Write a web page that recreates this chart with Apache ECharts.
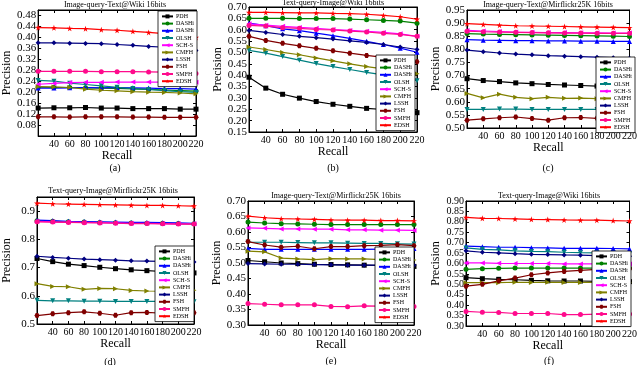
<!DOCTYPE html>
<html>
<head>
<meta charset="utf-8">
<script src="https://cdn.jsdelivr.net/npm/echarts@6/dist/echarts.min.js"></script>
<style>
  html, body { margin: 0; padding: 0; background: #fff; }
  #main { width: 640px; height: 365px; }
</style>
</head>
<body>
<div id="main"></div>
<script>
// precision vs recall, 16 bits, six retrieval settings
var recall = [20, 40, 60, 80, 100, 120, 140, 160, 180, 200, 220];
var methods = ['PDH', 'DASHi', 'DASHt', 'OLSH', 'SCH-S', 'CMFH', 'LSSH', 'FSH', 'SMFH', 'EDSH'];

// rows follow the order of methods
var panelA = [
    [0.142, 0.143, 0.143, 0.144, 0.142, 0.142, 0.140, 0.140, 0.140, 0.138, 0.138],
    [0.218, 0.217, 0.217, 0.216, 0.215, 0.214, 0.212, 0.210, 0.208, 0.206, 0.204],
    [0.215, 0.215, 0.216, 0.217, 0.216, 0.217, 0.216, 0.215, 0.213, 0.213, 0.211],
    [0.243, 0.240, 0.233, 0.228, 0.223, 0.218, 0.213, 0.210, 0.206, 0.202, 0.199],
    [0.229, 0.232, 0.235, 0.236, 0.236, 0.237, 0.237, 0.237, 0.237, 0.237, 0.236],
    [0.220, 0.219, 0.217, 0.211, 0.207, 0.205, 0.202, 0.200, 0.199, 0.197, 0.194],
    [0.380, 0.380, 0.379, 0.378, 0.377, 0.374, 0.371, 0.367, 0.364, 0.361, 0.352],
    [0.110, 0.110, 0.109, 0.110, 0.110, 0.110, 0.109, 0.109, 0.108, 0.108, 0.108],
    [0.276, 0.276, 0.276, 0.276, 0.275, 0.275, 0.275, 0.274, 0.273, 0.273, 0.268],
    [0.436, 0.435, 0.433, 0.432, 0.428, 0.426, 0.422, 0.418, 0.414, 0.410, 0.400]
];
var panelB = [
    [0.391, 0.343, 0.316, 0.299, 0.284, 0.272, 0.263, 0.254, 0.249, 0.243, 0.235],
    [0.650, 0.650, 0.650, 0.649, 0.649, 0.649, 0.647, 0.644, 0.641, 0.638, 0.629],
    [0.629, 0.618, 0.604, 0.596, 0.585, 0.574, 0.562, 0.549, 0.535, 0.519, 0.501],
    [0.509, 0.497, 0.482, 0.466, 0.451, 0.438, 0.425, 0.412, 0.401, 0.391, 0.376],
    [0.626, 0.620, 0.615, 0.610, 0.606, 0.601, 0.597, 0.593, 0.588, 0.582, 0.571],
    [0.524, 0.513, 0.500, 0.490, 0.476, 0.463, 0.450, 0.438, 0.428, 0.419, 0.406],
    [0.597, 0.588, 0.579, 0.571, 0.565, 0.559, 0.551, 0.544, 0.535, 0.524, 0.513],
    [0.571, 0.553, 0.540, 0.529, 0.518, 0.507, 0.497, 0.487, 0.478, 0.469, 0.459],
    [0.619, 0.616, 0.609, 0.606, 0.601, 0.599, 0.594, 0.590, 0.584, 0.579, 0.571],
    [0.676, 0.676, 0.675, 0.674, 0.674, 0.672, 0.671, 0.668, 0.663, 0.657, 0.646]
];
var panelC = [
    [0.688, 0.681, 0.677, 0.672, 0.669, 0.666, 0.664, 0.662, 0.660, 0.658, 0.656],
    [0.860, 0.858, 0.857, 0.856, 0.855, 0.854, 0.853, 0.852, 0.851, 0.850, 0.849],
    [0.837, 0.835, 0.834, 0.833, 0.833, 0.832, 0.832, 0.831, 0.831, 0.830, 0.830],
    [0.571, 0.571, 0.572, 0.572, 0.571, 0.571, 0.571, 0.571, 0.571, 0.571, 0.571],
    [0.872, 0.870, 0.868, 0.866, 0.865, 0.864, 0.864, 0.863, 0.863, 0.862, 0.862],
    [0.632, 0.615, 0.629, 0.617, 0.612, 0.617, 0.613, 0.614, 0.612, 0.613, 0.612],
    [0.797, 0.791, 0.786, 0.782, 0.779, 0.776, 0.774, 0.772, 0.770, 0.768, 0.766],
    [0.530, 0.535, 0.539, 0.542, 0.536, 0.530, 0.539, 0.540, 0.537, 0.536, 0.539],
    [0.869, 0.867, 0.866, 0.865, 0.864, 0.863, 0.862, 0.862, 0.861, 0.861, 0.861],
    [0.898, 0.895, 0.892, 0.890, 0.889, 0.888, 0.887, 0.886, 0.885, 0.884, 0.883]
];
var panelD = [
    [0.732, 0.721, 0.712, 0.707, 0.701, 0.696, 0.692, 0.689, 0.686, 0.683, 0.681],
    [0.866, 0.864, 0.862, 0.861, 0.860, 0.859, 0.858, 0.857, 0.857, 0.856, 0.855],
    [0.868, 0.866, 0.864, 0.863, 0.862, 0.861, 0.860, 0.860, 0.859, 0.858, 0.857],
    [0.584, 0.582, 0.582, 0.581, 0.581, 0.580, 0.580, 0.580, 0.580, 0.580, 0.579],
    [0.864, 0.862, 0.861, 0.860, 0.859, 0.858, 0.857, 0.857, 0.856, 0.855, 0.855],
    [0.643, 0.633, 0.632, 0.623, 0.626, 0.625, 0.619, 0.617, 0.616, 0.617, 0.620],
    [0.740, 0.736, 0.733, 0.730, 0.728, 0.726, 0.724, 0.723, 0.722, 0.721, 0.720],
    [0.530, 0.536, 0.540, 0.543, 0.538, 0.531, 0.540, 0.541, 0.538, 0.537, 0.540],
    [0.862, 0.861, 0.860, 0.859, 0.858, 0.857, 0.856, 0.856, 0.855, 0.854, 0.854],
    [0.928, 0.926, 0.925, 0.924, 0.923, 0.922, 0.921, 0.920, 0.920, 0.919, 0.918]
];
var panelE = [
    [0.508, 0.504, 0.500, 0.498, 0.496, 0.495, 0.494, 0.493, 0.492, 0.491, 0.489],
    [0.632, 0.629, 0.627, 0.626, 0.625, 0.624, 0.624, 0.624, 0.624, 0.624, 0.624],
    [0.547, 0.544, 0.544, 0.544, 0.544, 0.544, 0.544, 0.544, 0.545, 0.545, 0.547],
    [0.567, 0.567, 0.567, 0.566, 0.565, 0.565, 0.564, 0.563, 0.563, 0.562, 0.561],
    [0.613, 0.612, 0.610, 0.610, 0.609, 0.609, 0.607, 0.607, 0.606, 0.606, 0.605],
    [0.538, 0.536, 0.516, 0.513, 0.511, 0.514, 0.513, 0.513, 0.511, 0.510, 0.510],
    [0.498, 0.497, 0.496, 0.496, 0.495, 0.494, 0.493, 0.493, 0.493, 0.493, 0.493],
    [0.569, 0.558, 0.551, 0.554, 0.546, 0.553, 0.553, 0.556, 0.557, 0.559, 0.556],
    [0.369, 0.367, 0.365, 0.365, 0.365, 0.360, 0.359, 0.362, 0.361, 0.361, 0.360],
    [0.651, 0.646, 0.643, 0.642, 0.641, 0.639, 0.638, 0.638, 0.637, 0.637, 0.636]
];
var panelF = [
    [0.532, 0.527, 0.524, 0.522, 0.519, 0.517, 0.516, 0.516, 0.514, 0.514, 0.513],
    [0.572, 0.575, 0.577, 0.578, 0.578, 0.578, 0.578, 0.578, 0.578, 0.578, 0.578],
    [0.683, 0.681, 0.678, 0.678, 0.676, 0.675, 0.673, 0.673, 0.673, 0.672, 0.670],
    [0.675, 0.668, 0.665, 0.661, 0.658, 0.657, 0.654, 0.652, 0.651, 0.649, 0.647],
    [0.603, 0.603, 0.601, 0.600, 0.600, 0.600, 0.598, 0.598, 0.598, 0.598, 0.598],
    [0.508, 0.508, 0.508, 0.510, 0.509, 0.510, 0.509, 0.509, 0.509, 0.508, 0.508],
    [0.661, 0.654, 0.651, 0.647, 0.644, 0.643, 0.641, 0.640, 0.638, 0.638, 0.635],
    [0.491, 0.500, 0.517, 0.530, 0.546, 0.555, 0.562, 0.567, 0.572, 0.574, 0.575],
    [0.370, 0.366, 0.365, 0.360, 0.360, 0.360, 0.355, 0.355, 0.357, 0.358, 0.358],
    [0.821, 0.817, 0.816, 0.814, 0.812, 0.811, 0.809, 0.808, 0.808, 0.806, 0.804]
];

var colors = ['#000000', '#008000', '#0000ff', '#008080', '#ff00ff', '#808000', '#000080', '#800000', '#ff0a8c', '#ff0000'];
var star = 'path://M50,0 L61,35 L98,35 L68,57 L79,91 L50,70 L21,91 L32,57 L2,35 L39,35 Z';
var hexa = 'path://M25,0 L75,0 L100,50 L75,100 L25,100 L0,50 Z';
var symbols = ['rect', 'circle', 'triangle', 'triangle', 'triangle', 'triangle', 'diamond', hexa, 'circle', star];
var rotates = [0, 0, 0, 180, 90, -90, 0, 0, 0, 0];

var serif = '"Liberation Serif", "DejaVu Serif", serif';

var panels = [
    { data: panelA, tag: '(a)', title: 'Image-query-Text@Wiki 16bits',
      grid: [33, 10, 163, 126], y: [0.04, 0.50, 0.04], dec: 2, hideMin: true, hideMax: true, yFont: 11,
      titleXY: [115, 5], tagXY: [115, 168], legend: [158, 11] },
    { data: panelB, tag: '(b)', title: 'Text-query-Image@Wiki 16bits',
      grid: [249, 7, 168, 125], y: [0.15, 0.70, 0.05], dec: 2, hideMin: false, hideMax: false, yFont: 11,
      titleXY: [333, 3], tagXY: [333, 168], legend: [376, 55] },
    { data: panelC, tag: '(c)', title: 'Image-query-Text@Mirflickr25K 16bits',
      grid: [467, 10, 164, 118], y: [0.50, 0.95, 0.05], dec: 2, hideMin: false, hideMax: false, yFont: 11,
      titleXY: [548, 5], tagXY: [548, 168], legend: [596, 57] },
    { data: panelD, tag: '(d)', title: 'Text-query-Image@Mirflickr25K 16bits',
      grid: [25, 197, 169, 127], y: [0.5, 0.95, 0.1], dec: 1, hideMin: false, hideMax: true, yFont: 11,
      titleXY: [113, 191], tagXY: [110, 362], legend: [155, 246] },
    { data: panelE, tag: '(e)', title: 'Image-query-Text@Mirflickr25K 16bits',
      grid: [248, 201, 166, 124], y: [0.30, 0.70, 0.05], dec: 2, hideMin: false, hideMax: false, yFont: 11,
      titleXY: [336, 196], tagXY: [331, 361], legend: [375, 247] },
    { data: panelF, tag: '(f)', title: 'Text-query-Image@Wiki 16bits',
      grid: [466, 201, 165, 125], y: [0.30, 0.90, 0.05], dec: 2, hideMin: false, hideMax: false, yFont: 10,
      titleXY: [549, 196], tagXY: [549, 361], legend: [592, 251] }
];

var grids = [], xAxes = [], yAxes = [], series = [], legends = [], texts = [];
var extraX = [], extraY = [];

panels.forEach(function (p, k) {
    grids.push({
        left: p.grid[0], top: p.grid[1], width: p.grid[2], height: p.grid[3],
        show: true, borderColor: '#000', borderWidth: 1, backgroundColor: 'transparent'
    });
    xAxes.push({
        type: 'value', gridIndex: k, min: 20, max: 220, interval: 20,
        name: 'Recall', nameLocation: 'middle', nameGap: 11,
        nameTextStyle: { fontFamily: serif, fontSize: 12, color: '#000' },
        axisLine: { lineStyle: { color: '#000' } },
        axisTick: { inside: true, length: 3, lineStyle: { color: '#000' } },
        axisLabel: { showMinLabel: false, fontFamily: serif, fontSize: 10, color: '#000', margin: 3 },
        splitLine: { show: false }
    });
    yAxes.push({
        type: 'value', gridIndex: k, min: p.y[0], max: p.y[1], interval: p.y[2],
        name: 'Precision', nameLocation: 'middle', nameGap: 24,
        nameTextStyle: { fontFamily: serif, fontSize: 12, color: '#000' },
        axisLine: { lineStyle: { color: '#000' } },
        axisTick: { inside: true, length: 3, lineStyle: { color: '#000' } },
        axisLabel: {
            showMinLabel: !p.hideMin, showMaxLabel: !p.hideMax, hideOverlap: false,
            fontFamily: serif, fontSize: p.yFont, color: '#000', margin: 2,
            formatter: function (v) { return v.toFixed(p.dec); }
        },
        splitLine: { show: false }
    });
    // mirrored tick marks on the top and right edges
    extraX.push({
        type: 'value', gridIndex: k, position: 'top', min: 20, max: 220, interval: 20,
        axisLine: { lineStyle: { color: '#000' } },
        axisTick: { inside: true, length: 3, lineStyle: { color: '#000' } },
        axisLabel: { show: false }, splitLine: { show: false }
    });
    extraY.push({
        type: 'value', gridIndex: k, position: 'right', min: p.y[0], max: p.y[1], interval: p.y[2],
        axisLine: { lineStyle: { color: '#000' } },
        axisTick: { inside: true, length: 3, lineStyle: { color: '#000' } },
        axisLabel: { show: false }, splitLine: { show: false }
    });
    p.data.forEach(function (vals, m) {
        series.push({
            name: methods[m], type: 'line', xAxisIndex: k, yAxisIndex: k,
            data: recall.map(function (r, i) { return [r, vals[i]]; }),
            symbol: symbols[m], symbolRotate: rotates[m], symbolSize: m === 9 ? 6 : 5,
            showAllSymbol: true,
            lineStyle: { color: colors[m], width: 1.2 },
            itemStyle: { color: colors[m] },
            animation: false
        });
    });
    legends.push({
        data: methods, orient: 'vertical', left: p.legend[0], top: p.legend[1],
        itemWidth: 11, itemHeight: 5, itemGap: 0.4, padding: [2, 3, 2, 3],
        borderColor: '#000', borderWidth: 0.8, backgroundColor: '#fff', borderRadius: 0,
        textStyle: { fontFamily: serif, fontSize: 6, lineHeight: 6.8, color: '#000', padding: [0, 0, 0, -2] },
        selectedMode: false
    });
    texts.push({
        type: 'text', x: p.titleXY[0], y: p.titleXY[1], z: 10,
        style: { text: p.title, fill: '#000', font: '8px ' + serif, align: 'center', verticalAlign: 'middle' }
    });
    texts.push({
        type: 'text', x: p.tagXY[0], y: p.tagXY[1], z: 10,
        style: { text: p.tag, fill: '#000', font: '10px ' + serif, align: 'center', verticalAlign: 'middle' }
    });
});

var chart = echarts.init(document.getElementById('main'), null, { renderer: 'canvas' });
chart.setOption({
    backgroundColor: '#fff',
    animation: false,
    grid: grids,
    xAxis: xAxes.concat(extraX),
    yAxis: yAxes.concat(extraY),
    legend: legends,
    graphic: texts,
    series: series
});
</script>
</body>
</html>
